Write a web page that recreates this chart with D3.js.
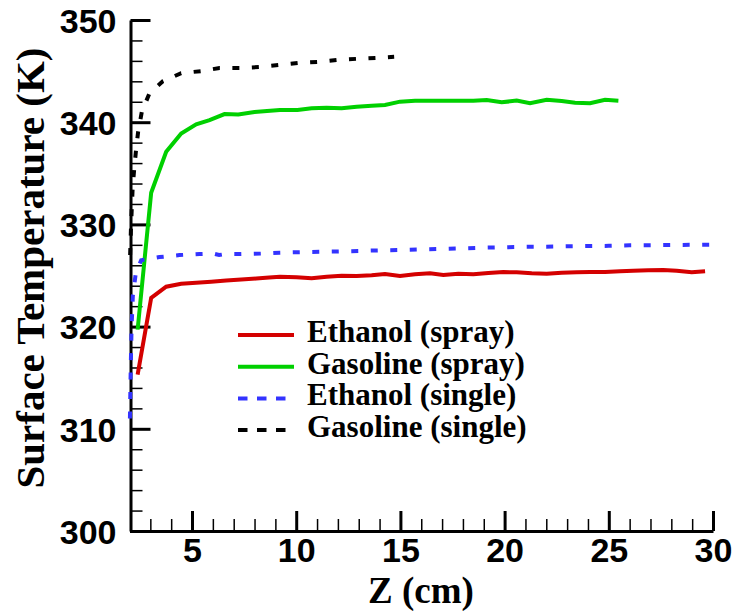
<!DOCTYPE html>
<html>
<head>
<meta charset="utf-8">
<script src="https://cdn.jsdelivr.net/npm/d3@7"></script>
<style>
    body { margin: 0; background: #fff; }
    svg { display: block; }
</style>
</head>
<body>
<div id="container"></div>
<script>

// Z (cm) / surface temperature (K)
const ethanolSprayZ = [2.39, 3.04, 3.76, 4.48, 5.2, 5.92, 6.64, 7.36, 8.08, 8.7, 9.22, 10.02, 10.74, 11.46, 12.18, 12.9, 13.62, 14.26, 14.98, 15.7, 16.42, 17.06, 17.78, 18.5, 19.22, 19.94, 20.58, 21.3, 22.02, 22.74, 23.46, 24.1, 24.82, 25.54, 26.17, 26.89, 27.61, 28.26, 28.98, 29.62];
const ethanolSprayT = [315.3, 322.8, 323.9, 324.2, 324.3, 324.4, 324.5, 324.6, 324.7, 324.8, 324.88, 324.82, 324.72, 324.88, 324.98, 324.95, 325.02, 325.15, 324.95, 325.12, 325.21, 325.05, 325.18, 325.12, 325.24, 325.34, 325.31, 325.21, 325.18, 325.28, 325.31, 325.34, 325.34, 325.41, 325.47, 325.51, 325.54, 325.47, 325.31, 325.41];

const gasolineSprayZ = [2.39, 3.04, 3.76, 4.48, 5.2, 5.84, 6.56, 7.22, 8.0, 8.6, 9.22, 10.06, 10.74, 11.46, 12.18, 12.9, 13.62, 14.26, 14.98, 15.7, 16.42, 17.06, 17.78, 18.5, 19.14, 19.86, 20.58, 21.22, 22.02, 22.74, 23.38, 24.1, 24.82, 25.46];
const gasolineSprayT = [319.7, 333.1, 337.1, 338.9, 339.8, 340.2, 340.8, 340.75, 341.0, 341.1, 341.19, 341.19, 341.36, 341.42, 341.36, 341.52, 341.62, 341.68, 342.01, 342.11, 342.11, 342.11, 342.11, 342.11, 342.17, 341.95, 342.11, 341.85, 342.2, 342.07, 341.91, 341.85, 342.2, 342.11];

const ethanolSingleZ = [2.02, 2.06, 2.1, 2.16, 2.3, 2.56, 3.44, 4.4, 5.36, 6.0, 6.3, 6.6, 7.3, 8.3, 9.2, 10.5, 12.0, 13.0, 14.0, 15.0, 16.0, 17.0, 18.0, 19.0, 20.0, 21.0, 22.0, 23.0, 24.0, 25.0, 26.0, 27.0, 28.0, 29.0, 29.9];
const ethanolSingleT = [311.0, 316.0, 320.0, 323.0, 325.2, 326.5, 326.8, 327.0, 327.1, 327.15, 327.0, 327.1, 327.1, 327.15, 327.23, 327.3, 327.35, 327.4, 327.46, 327.5, 327.56, 327.6, 327.66, 327.72, 327.76, 327.8, 327.82, 327.86, 327.89, 327.9, 327.95, 327.97, 327.98, 328.0, 328.02];

const gasolineSingleZ = [2.03, 2.07, 2.11, 2.15, 2.22, 2.31, 2.41, 2.59, 2.95, 3.6, 4.48, 5.44, 6.32, 7.28, 8.24, 9.2, 10.1, 11.05, 12.0, 12.9, 13.9, 14.7];
const gasolineSingleT = [327.0, 329.6, 331.6, 333.5, 335.3, 337.2, 339.0, 341.0, 342.8, 344.0, 344.8, 345.0, 345.3, 345.3, 345.4, 345.6, 345.8, 345.9, 346.1, 346.2, 346.3, 346.4];

const seriesNames = ['Ethanol (spray)', 'Gasoline (spray)', 'Ethanol (single)', 'Gasoline (single)'];
const seriesColors = ['#d40000', '#00d000', '#3333ff', '#000000'];
const seriesDashes = [null, null, '7,12.5', '7,12.5'];

const xTicks = [5, 10, 15, 20, 25, 30];
const yTicks = [300, 310, 320, 330, 340, 350];

const series = [
    { z: ethanolSprayZ, t: ethanolSprayT },
    { z: gasolineSprayZ, t: gasolineSprayT },
    { z: ethanolSingleZ, t: ethanolSingleT },
    { z: gasolineSingleZ, t: gasolineSingleT }
].map((s, i) => ({
    name: seriesNames[i],
    color: seriesColors[i],
    dash: seriesDashes[i],
    points: s.z.map((z, j) => [z, s.t[j]])
}));

const width = 735;
const height = 611;

const canvas = d3.select('#container')
    .append('svg')
    .attr('width', width)
    .attr('height', height);

const x = d3.scaleLinear().domain([2, 30]).range([129.5, 713]);
const y = d3.scaleLinear().domain([300, 350]).range([531, 20]);

const numFont = '"Liberation Sans", Arial, sans-serif';
const titleFont = '"Liberation Serif", "Times New Roman", serif';

// minor ticks first, majors on top
canvas.append('g')
    .attr('transform', 'translate(0,531)')
    .call(d3.axisBottom(x).tickValues(d3.range(3, 30, 1).filter(v => v % 5 !== 0)).tickSize(-12).tickFormat(''))
    .call(g => g.select('.domain').remove())
    .call(g => g.selectAll('line').attr('stroke-width', 1.5));

canvas.append('g')
    .attr('transform', 'translate(130.5,0)')
    .call(d3.axisLeft(y).tickValues(d3.range(302, 350, 2).filter(v => v % 10 !== 0)).tickSize(-12).tickFormat(''))
    .call(g => g.select('.domain').remove())
    .call(g => g.selectAll('line').attr('stroke-width', 1.5));

const xAxis = canvas.append('g')
    .attr('transform', 'translate(0,531)')
    .call(d3.axisBottom(x).tickValues(xTicks).tickSize(-20).tickSizeOuter(0).tickPadding(7));

const yAxis = canvas.append('g')
    .attr('transform', 'translate(130.5,0)')
    .call(d3.axisLeft(y).tickValues(yTicks).tickSize(-20).tickSizeOuter(0).tickPadding(14));

[xAxis, yAxis].forEach(ax => {
    ax.select('.domain').attr('stroke-width', 3);
    ax.selectAll('.tick line').attr('stroke-width', 3);
    ax.selectAll('.tick text')
        .attr('font-family', numFont)
        .attr('font-weight', 'bold')
        .attr('font-size', 34)
        .attr('fill', '#000');
});
yAxis.selectAll('.tick text').attr('dy', '0.36em');

// curves
const line = d3.line()
    .x(d => x(d[0]))
    .y(d => y(d[1]));

canvas.append('g')
    .selectAll('path')
    .data(series)
    .enter()
    .append('path')
    .attr('d', d => line(d.points))
    .attr('fill', 'none')
    .attr('stroke', d => d.color)
    .attr('stroke-width', 4)
    .attr('stroke-dasharray', d => d.dash);

// legend
const legend = canvas.append('g')
    .selectAll('g')
    .data(series)
    .enter()
    .append('g')
    .attr('transform', (d, i) => `translate(238, ${335 + i * 31.7})`);

legend.append('line')
    .attr('x1', 0)
    .attr('x2', d => d.dash ? 48 : 56)
    .attr('stroke', d => d.color)
    .attr('stroke-width', 4)
    .attr('stroke-dasharray', d => d.dash ? '9.5,9.5' : null);

legend.append('text')
    .attr('x', 69)
    .attr('y', 7)
    .attr('font-family', titleFont)
    .attr('font-weight', 'bold')
    .attr('font-size', 31)
    .text(d => d.name);

// axis titles
canvas.append('text')
    .attr('x', 421)
    .attr('y', 603)
    .attr('text-anchor', 'middle')
    .attr('font-family', titleFont)
    .attr('font-weight', 'bold')
    .attr('font-size', 37)
    .text('Z (cm)');

canvas.append('text')
    .attr('transform', 'translate(44,268) rotate(-90)')
    .attr('text-anchor', 'middle')
    .attr('font-family', titleFont)
    .attr('font-weight', 'bold')
    .attr('font-size', 41)
    .text('Surface Temperature (K)');

</script>
</body>
</html>
